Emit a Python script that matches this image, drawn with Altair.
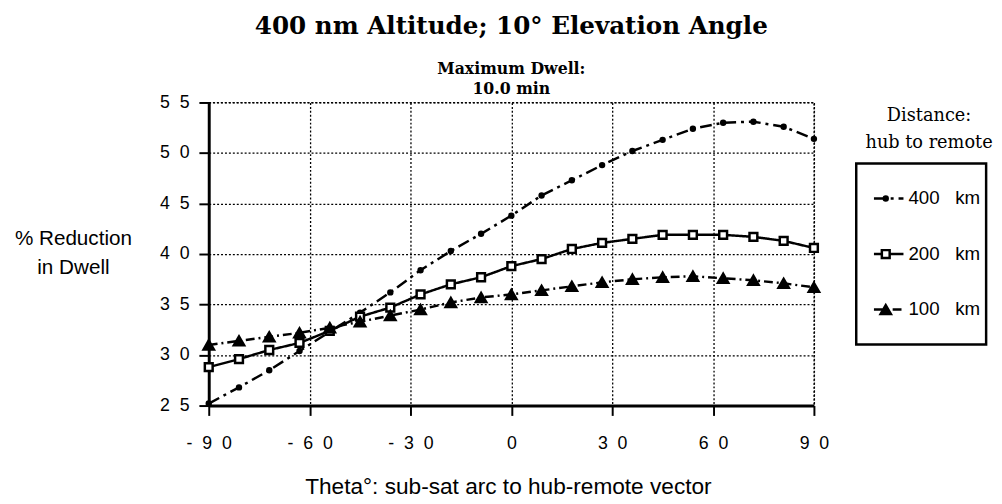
import altair as alt
import pandas as pd

# ---- data ----
theta = [-90, -81, -72, -63, -54, -45, -36, -27, -18, -9, 0,
         9, 18, 27, 36, 45, 54, 63, 72, 81, 90]
r400 = [25.2, 26.8, 28.5, 30.4, 32.3, 34.2, 36.2, 38.4, 40.3, 42.0, 43.8,
        45.8, 47.3, 48.8, 50.2, 51.3, 52.4, 53.0, 53.1, 52.6, 51.4]
r200 = [28.8, 29.6, 30.5, 31.2, 32.4, 33.8, 34.7, 36.0, 37.0, 37.7, 38.8,
        39.5, 40.5, 41.1, 41.5, 41.9, 41.9, 41.9, 41.7, 41.3, 40.6]
r100 = [31.0, 31.4, 31.8, 32.2, 32.7, 33.3, 33.9, 34.5, 35.2, 35.7, 36.0,
        36.4, 36.8, 37.2, 37.5, 37.7, 37.8, 37.6, 37.4, 37.1, 36.7]
series = ["400 km", "200 km", "100 km"]
x_ticks = [-90, -60, -30, 0, 30, 60, 90]
y_ticks = [25, 30, 35, 40, 45, 50, 55]

rows = []
for name, vals in zip(series, [r400, r200, r100]):
    for t, v in zip(theta, vals):
        rows.append({"theta": t, "pct": v, "series": name})
df = pd.DataFrame(rows)

SANS = "Liberation Sans"
SERIF = "DejaVu Serif"
x_spaced = "join(split(toString(datum.value), ''), '\u00a0\u00a0')"
y_spaced = "join(split(toString(datum.value), ''), '\u00a0\u00a0')"

dash_scale = alt.Scale(domain=series, range=[[12, 5, 3, 5], [1, 0], [9, 4, 2, 4]])
sw_scale = alt.Scale(domain=series, range=[2.5, 2.5, 2])
shape_scale = alt.Scale(domain=series, range=["circle", "square", "triangle-up"])
fill_scale = alt.Scale(domain=series, range=["black", "white", "black"])
size_scale = alt.Scale(domain=series, range=[16, 110, 8])
pt_sw_scale = alt.Scale(domain=series, range=[1.5, 2.2, 1])

x_enc = alt.X(
    "theta:Q",
    scale=alt.Scale(domain=[-90, 90], nice=False, zero=False),
    axis=alt.Axis(
        values=x_ticks, labelExpr=x_spaced, labelFlush=False,
        title="Theta°: sub-sat arc to hub-remote vector",
        titleX=304, titleY=89, titleBaseline="alphabetic",
        titleFont=SANS, titleFontSize=23, titleFontWeight="normal",
        labelPadding=20,
    ),
)
y_enc = alt.Y(
    "pct:Q",
    scale=alt.Scale(domain=[25, 55], nice=False, zero=False),
    axis=alt.Axis(
        values=y_ticks, labelExpr=y_spaced, labelFlush=False,
        title=["% Reduction", "in  Dwell"], titleAngle=0,
        titleAlign="center", titleBaseline="alphabetic",
        titleX=-138, titleY=144, titleLineHeight=30,
        titleFont=SANS, titleFontSize=21, titleFontWeight="normal",
        labelPadding=10,
    ),
)

lines = alt.Chart(df).mark_line().encode(
    x=x_enc, y=y_enc,
    detail="series:N",
    strokeDash=alt.StrokeDash("series:N", scale=dash_scale, legend=None),
    strokeWidth=alt.StrokeWidth("series:N", scale=sw_scale, legend=None),
    color=alt.value("black"),
)
points = alt.Chart(df).mark_point(stroke="black", opacity=1, fillOpacity=1).encode(
    x="theta:Q", y="pct:Q",
    shape=alt.Shape("series:N", scale=shape_scale, legend=None),
    fill=alt.Fill("series:N", scale=fill_scale, legend=None),
    size=alt.Size("series:N", scale=size_scale, legend=None),
    strokeWidth=alt.StrokeWidth("series:N", scale=pt_sw_scale, legend=None),
)

main = alt.layer(lines, points).properties(
    width=615, height=308,
    view=alt.ViewBackground(stroke="black", strokeDash=[2, 2], strokeWidth=1.3),
    title=alt.TitleParams(
        text="400 nm Altitude; 10° Elevation Angle",
        subtitle=["Maximum Dwell:", "10.0 min"],
        font=SERIF, fontSize=25, fontWeight="bold", color="black",
        subtitleFont=SERIF, subtitleFontSize=16, subtitleFontWeight="bold",
        subtitleColor="black", subtitleLineHeight=19.5, subtitlePadding=23,
        offset=-3, anchor="middle",
    ),
)

# ---- legend panel ----
leg_df = pd.DataFrame({"series": series})
ly = alt.Y("series:N", scale=alt.Scale(type="point", domain=series, padding=0.63), axis=None)
leg_rule = alt.Chart(leg_df).mark_rule(color="black").encode(
    x=alt.value(18), x2=alt.value(48), y=ly,
    strokeDash=alt.StrokeDash("series:N", scale=alt.Scale(domain=series, range=[[3, 3, 2, 3], [1, 0], [4, 3, 2, 3]]), legend=None),
    strokeWidth=alt.StrokeWidth("series:N", scale=sw_scale, legend=None),
)
leg_pts = alt.Chart(leg_df).mark_point(stroke="black", opacity=1, fillOpacity=1).encode(
    x=alt.value(30), y=ly,
    shape=alt.Shape("series:N", scale=shape_scale, legend=None),
    fill=alt.Fill("series:N", scale=fill_scale, legend=None),
    size=alt.Size("series:N", scale=alt.Scale(domain=series, range=[10, 60, 6]), legend=None),
    strokeWidth=alt.StrokeWidth("series:N", scale=pt_sw_scale, legend=None),
)
leg_txt = alt.Chart(leg_df).transform_calculate(
    label="replace(datum.series, ' ', '\u00a0\u00a0\u00a0')"
).mark_text(align="left", baseline="middle", font=SANS, fontSize=19, color="black").encode(
    x=alt.value(53), y=ly, text="label:N",
)
legend = alt.layer(leg_rule, leg_pts, leg_txt).properties(
    width=132, height=184,
    view=alt.ViewBackground(stroke="black", strokeWidth=2.5),
    title=alt.TitleParams(
        text=["Distance:", "hub to remote"], font=SERIF, fontSize=18,
        fontWeight="normal", color="black", lineHeight=27, anchor="middle",
        offset=12, dx=8,
    ),
)

chart = alt.hconcat(main, legend, spacing=43, bounds="flush", center=True).configure(
    padding={"left": 5, "top": 1, "right": 0, "bottom": 0},
).configure_axis(
    domainColor="black", domainWidth=3,
    tickColor="black", tickWidth=2, tickSize=10,
    labelFont=SANS, labelFontSize=18, labelColor="black",
    titleColor="black",
    grid=True, gridColor="black", gridDash=[2, 2], gridWidth=1.3, gridOpacity=1,
)

chart.save("out.html", embed_options={"renderer": "svg", "actions": False})
